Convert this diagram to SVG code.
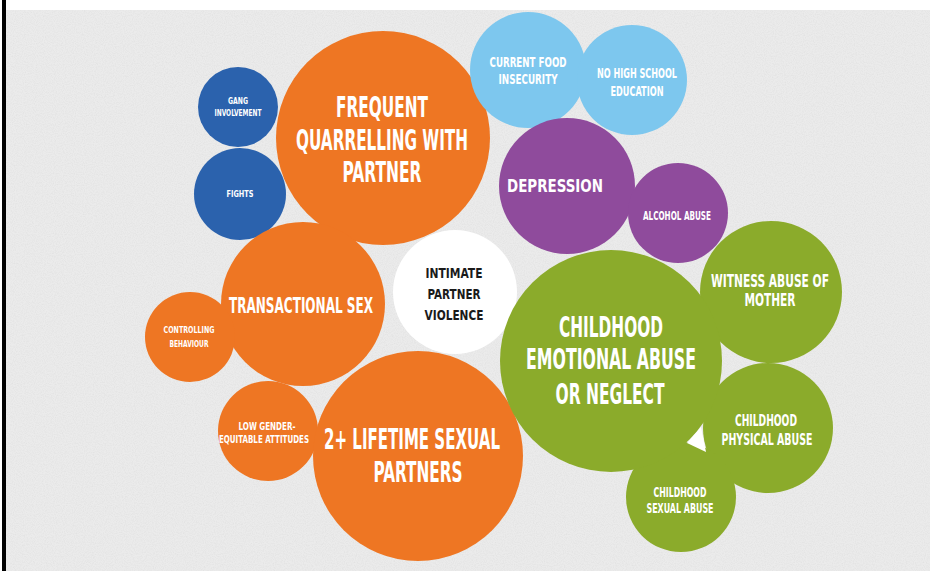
<svg xmlns="http://www.w3.org/2000/svg" width="930" height="571" viewBox="0 0 930 571">
<defs>
<filter id="noise" x="0" y="0" width="100%" height="100%">
<feTurbulence type="fractalNoise" baseFrequency="0.9" numOctaves="2" seed="3"/>
<feColorMatrix type="matrix" values="0 0 0 0 0.55  0 0 0 0 0.55  0 0 0 0 0.55  0 0 0 1.2 -0.45"/>
</filter>
</defs>
<style>
.orange{fill:#ee7623}
.dblue{fill:#2b62ad}
.lblue{fill:#7dc7ee}
.purple{fill:#8f4b9c}
.green{fill:#8bab2b}
.white{fill:#ffffff}
text{font-family:"DejaVu Sans Condensed","Liberation Sans",sans-serif;font-weight:bold;text-anchor:middle;fill:#ffffff}
.dark{fill:#1a1a1a}
</style>
<rect x="0" y="0" width="930" height="571" fill="#ffffff"/>
<rect x="6" y="10" width="924" height="561" fill="#ebebeb"/>
<rect x="6" y="10" width="924" height="561" filter="url(#noise)" opacity="0.35"/>
<rect x="2" y="0" width="4" height="571" fill="#000000"/>

<g id="connectors"></g>

<g id="ipv">
<circle class="white" cx="455" cy="292" r="62"/>
<text class="dark" font-size="14" x="454" y="278" textLength="57" lengthAdjust="spacingAndGlyphs">INTIMATE</text>
<text class="dark" font-size="14" x="454" y="299" textLength="53" lengthAdjust="spacingAndGlyphs">PARTNER</text>
<text class="dark" font-size="14" x="454" y="320" textLength="59" lengthAdjust="spacingAndGlyphs">VIOLENCE</text>
</g>

<g id="gang">
<circle class="dblue" cx="238" cy="107" r="40"/>
<text font-size="9" x="238" y="104" textLength="20" lengthAdjust="spacingAndGlyphs">GANG</text>
<text font-size="9" x="238" y="116" textLength="47" lengthAdjust="spacingAndGlyphs">INVOLVEMENT</text>
</g>
<g id="fights">
<circle class="dblue" cx="240" cy="194" r="46"/>
<text font-size="9" x="240" y="197" textLength="27" lengthAdjust="spacingAndGlyphs">FIGHTS</text>
</g>

<g id="quarrelling">
<circle class="orange" cx="383" cy="138" r="107"/>
<text font-size="29" x="382" y="117" textLength="92" lengthAdjust="spacingAndGlyphs">FREQUENT</text>
<text font-size="29" x="382" y="150" textLength="172" lengthAdjust="spacingAndGlyphs">QUARRELLING WITH</text>
<text font-size="29" x="382" y="182" textLength="79" lengthAdjust="spacingAndGlyphs">PARTNER</text>
</g>

<g id="transactional">
<circle class="orange" cx="303" cy="304" r="82"/>
<text font-size="22" x="301" y="313" textLength="144" lengthAdjust="spacingAndGlyphs">TRANSACTIONAL SEX</text>
</g>

<g id="controlling">
<circle class="orange" cx="190" cy="337" r="45"/>
<text font-size="9" x="189" y="333" textLength="51" lengthAdjust="spacingAndGlyphs">CONTROLLING</text>
<text font-size="9" x="189" y="347" textLength="39" lengthAdjust="spacingAndGlyphs">BEHAVIOUR</text>
</g>

<g id="lowgender">
<circle class="orange" cx="268" cy="431" r="50"/>
<text font-size="10" x="267" y="430" textLength="57" lengthAdjust="spacingAndGlyphs">LOW GENDER-</text>
<text font-size="10" x="264" y="443" textLength="90" lengthAdjust="spacingAndGlyphs">EQUITABLE ATTITUDES</text>
</g>

<g id="lifetime">
<circle class="orange" cx="418" cy="456" r="105"/>
<text font-size="28" x="412" y="449" textLength="176" lengthAdjust="spacingAndGlyphs">2+ LIFETIME SEXUAL</text>
<text font-size="28" x="418" y="482" textLength="89" lengthAdjust="spacingAndGlyphs">PARTNERS</text>
</g>

<g id="food">
<circle class="lblue" cx="528" cy="70" r="58"/>
<text font-size="14" x="528" y="67" textLength="77" lengthAdjust="spacingAndGlyphs">CURRENT FOOD</text>
<text font-size="14" x="528" y="84" textLength="59" lengthAdjust="spacingAndGlyphs">INSECURITY</text>
</g>
<g id="school">
<circle class="lblue" cx="632" cy="80" r="55"/>
<text font-size="14" x="637" y="78" textLength="80" lengthAdjust="spacingAndGlyphs">NO HIGH SCHOOL</text>
<text font-size="14" x="637" y="96" textLength="53" lengthAdjust="spacingAndGlyphs">EDUCATION</text>
</g>

<g id="depression">
<circle class="purple" cx="567" cy="186" r="68"/>
<text font-size="18" x="555" y="192" textLength="96" lengthAdjust="spacingAndGlyphs">DEPRESSION</text>
</g>
<g id="alcohol">
<circle class="purple" cx="678" cy="213" r="50"/>
<text font-size="12" x="677" y="220" textLength="68" lengthAdjust="spacingAndGlyphs">ALCOHOL ABUSE</text>
</g>

<g id="witness">
<circle class="green" cx="771" cy="292" r="71"/>
<text font-size="17" x="770" y="287" textLength="118" lengthAdjust="spacingAndGlyphs">WITNESS ABUSE OF</text>
<text font-size="17" x="770" y="306" textLength="51" lengthAdjust="spacingAndGlyphs">MOTHER</text>
</g>
<g id="physical">
<circle class="green" cx="768" cy="428" r="65"/>
<text font-size="16" x="766" y="426" textLength="62" lengthAdjust="spacingAndGlyphs">CHILDHOOD</text>
<text font-size="16" x="767" y="445" textLength="91" lengthAdjust="spacingAndGlyphs">PHYSICAL ABUSE</text>
</g>
<g id="sexual">
<circle class="green" cx="681" cy="497" r="55"/>
<text font-size="14" x="680" y="497" textLength="53" lengthAdjust="spacingAndGlyphs">CHILDHOOD</text>
<text font-size="14" x="680" y="513" textLength="67" lengthAdjust="spacingAndGlyphs">SEXUAL ABUSE</text>
</g>
<g id="emotional">
<circle class="green" cx="611" cy="361" r="111"/>
<text font-size="29" x="611" y="337" textLength="104" lengthAdjust="spacingAndGlyphs">CHILDHOOD</text>
<text font-size="29" x="611" y="369" textLength="170" lengthAdjust="spacingAndGlyphs">EMOTIONAL ABUSE</text>
<text font-size="29" x="610" y="404" textLength="109" lengthAdjust="spacingAndGlyphs">OR NEGLECT</text>
</g>
<polygon points="701,427 687,443 706,452" fill="#ffffff"/>
</svg>
